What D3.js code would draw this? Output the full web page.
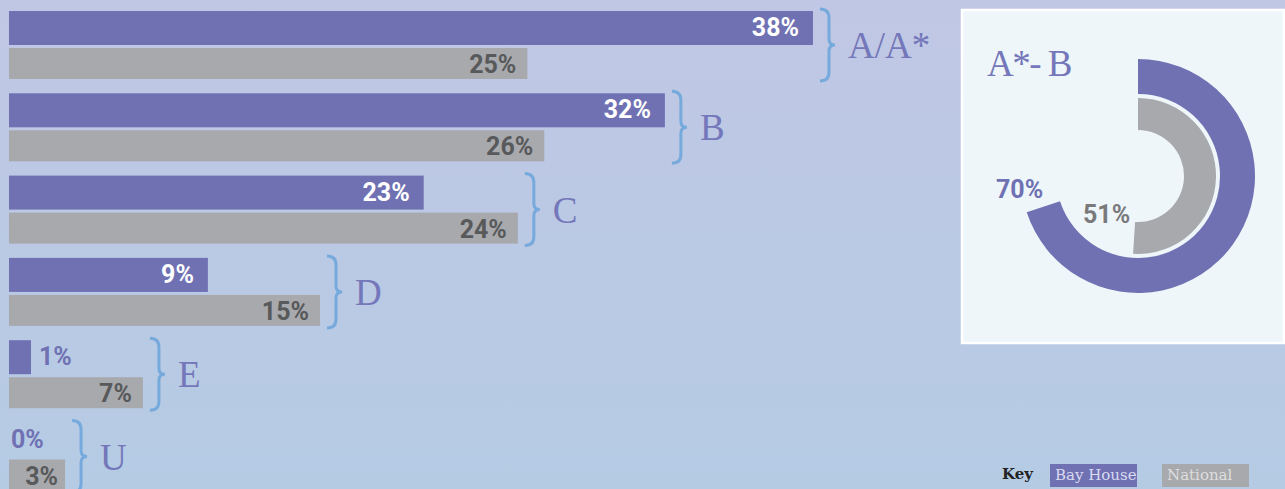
<!DOCTYPE html>
<html>
<head>
<meta charset="utf-8">
<script src="https://cdn.jsdelivr.net/npm/d3@7"></script>
<style>
  body { margin: 0; overflow: hidden; }
  .pct { font-family: Roboto, "Open Sans", sans-serif; font-weight: 700; font-size: 25px; }
  .grade { font-family: "Liberation Serif", serif; font-size: 37px; fill: #7477b9; }
  .key { font-family: "DejaVu Serif", serif; font-size: 15px; }
</style>
</head>
<body>
<svg id="chart" width="1285" height="489"></svg>
<script>
let grades = ["A/A*", "B", "C", "D", "E", "U"];
// percentages as printed on the labels
let bayHouse = [38, 32, 23, 9, 1, 0];
let national = [25, 26, 24, 15, 7, 3];
// bar lengths as drawn in the source (the original is not exactly to scale)
let bayHouseBar = [38, 31, 19.6, 9.4, 1.04, 0];
let nationalBar = [24.5, 25.3, 24.05, 14.7, 6.33, 2.65];
// A* - B summary ring
let ringLabels = ["Bay House", "National"];
let ringValues = [70, 51];

let purple = "#6f71b3";
let grey = "#a8a9ac";

let svg = d3.select("#chart");

// background
let defs = svg.append("defs");
let grad = defs.append("linearGradient").
attr("id", "bg").
attr("x1", 0).attr("y1", 0).attr("x2", 0).attr("y2", 1);
grad.append("stop").attr("offset", "0%").attr("stop-color", "#c0c7e4");
grad.append("stop").attr("offset", "100%").attr("stop-color", "#b5cbe4");

svg.append("rect").
attr("width", 1285).
attr("height", 489).
attr("fill", "url(#bg)");

// scales
let x = d3.scaleLinear().
domain([0, 38]).
range([0, 804]);

let y = d3.scaleBand().
domain(grades).
range([11, 11 + 82.3 * grades.length]);

let x0 = 9;
let bayH = 34;
let natH = 31;
let natOff = 37;

let rows = grades.map((g, i) => ({
  grade: g,
  bay: bayHouse[i],
  nat: national[i],
  bayLen: bayHouseBar[i],
  natLen: nationalBar[i]
}));

let group = svg.selectAll("g.row").
data(rows).
enter().
append("g").
attr("class", "row").
attr("transform", d => `translate(0,${y(d.grade)})`);

group.append("rect").
attr("x", x0).
attr("y", 0).
attr("width", d => x(d.bayLen)).
attr("height", bayH).
attr("fill", purple);

group.append("rect").
attr("x", x0).
attr("y", natOff).
attr("width", d => x(d.natLen)).
attr("height", natH).
attr("fill", grey);

// labels: inside the bar if it fits, otherwise just after it
group.append("text").
attr("class", "pct").
attr("x", d => x(d.bayLen) > 60 ? x0 + x(d.bayLen) - 14 : x0 + x(d.bayLen) + (d.bayLen > 0 ? 8 : 2)).
attr("y", 25).
attr("text-anchor", d => x(d.bayLen) > 60 ? "end" : "start").
attr("fill", d => x(d.bayLen) > 60 ? "white" : purple).
text(d => d.bay + "%");

group.append("text").
attr("class", "pct").
attr("x", d => x0 + x(d.natLen) - (x(d.natLen) > 100 ? 11 : 7)).
attr("y", natOff + 25).
attr("text-anchor", "end").
attr("fill", "#58595b").
text(d => d.nat + "%");

// braces
function brace(d) {
  let bx = x0 + x(Math.max(d.bayLen, d.natLen)) + 7;
  let y0 = -2;
  let y1 = natOff + natH + 2;
  let ym = (y0 + y1) / 2;
  return `M${bx},${y0} Q${bx + 9},${y0} ${bx + 9},${y0 + 9} L${bx + 9},${ym - 6} ` +
  `Q${bx + 9},${ym} ${bx + 15},${ym} Q${bx + 9},${ym} ${bx + 9},${ym + 6} ` +
  `L${bx + 9},${y1 - 9} Q${bx + 9},${y1} ${bx},${y1}`;
}

group.append("path").
attr("d", brace).
attr("fill", "none").
attr("stroke", "#76a9dc").
attr("stroke-width", 3);

group.append("text").
attr("class", "grade").
attr("x", d => x0 + x(Math.max(d.bayLen, d.natLen)) + 35).
attr("y", 47).
text(d => d.grade);

// summary panel
svg.append("rect").
attr("x", 962).
attr("y", 10).
attr("width", 322).
attr("height", 333).
attr("fill", "#eef6fa").
attr("stroke", "white").
attr("stroke-width", 2.5);

svg.append("text").
attr("class", "grade").
attr("x", 987).
attr("y", 76).
attr("font-size", "35px").
attr("letter-spacing", "-1.5px").
text("A*- B");

let cx = 1138;
let cy = 176;
let angle = d3.scaleLinear().domain([0, 100]).range([0, 2 * Math.PI]);
let radii = [[82, 117], [46, 78]];
let ringColors = [purple, grey];

let ring = svg.append("g").
attr("transform", `translate(${cx},${cy})`);

ring.selectAll("path").
data(ringValues).
enter().
append("path").
attr("d", (d, i) => d3.arc().
innerRadius(radii[i][0]).
outerRadius(radii[i][1]).
startAngle(0).
endAngle(angle(d))()).
attr("fill", (d, i) => ringColors[i]);

svg.append("text").
attr("class", "pct").
attr("x", 996).
attr("y", 198).
attr("fill", purple).
text(ringValues[0] + "%");

svg.append("text").
attr("class", "pct").
attr("x", 1083).
attr("y", 223).
attr("fill", "#7a7a7c").
text(ringValues[1] + "%");

// key
svg.append("text").
attr("class", "key").
attr("x", 1002).
attr("y", 479).
attr("font-size", "16px").
attr("font-weight", 700).
attr("fill", "#222").
text("Key");

let keyX = [1050, 1162];
let keyText = ["#d9dbf0", "#dedede"];

let keyItem = svg.selectAll("g.keyitem").
data(ringLabels).
enter().
append("g").
attr("class", "keyitem").
attr("transform", (d, i) => `translate(${keyX[i]},464)`);

keyItem.append("rect").
attr("width", 87).
attr("height", 23).
attr("fill", (d, i) => ringColors[i]);

keyItem.append("text").
attr("class", "key").
attr("x", 5).
attr("y", 16).
attr("fill", (d, i) => keyText[i]).
text(d => d);
</script>
</body>
</html>
